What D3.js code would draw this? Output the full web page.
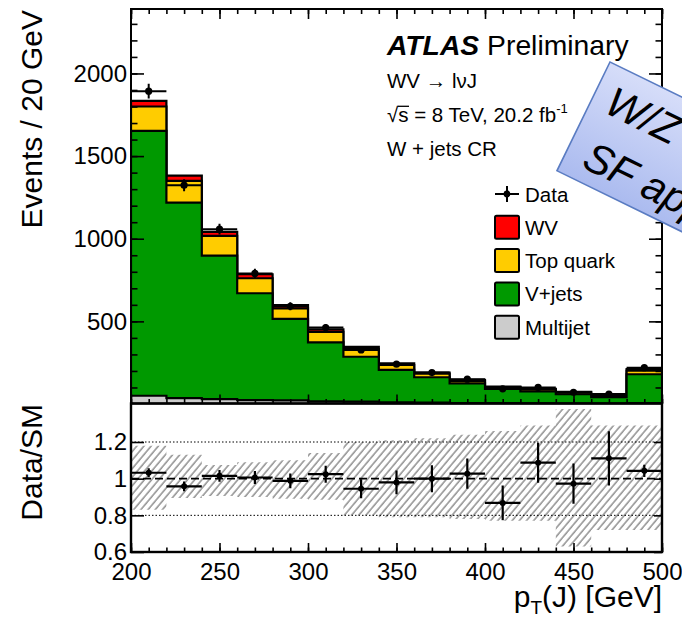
<!DOCTYPE html>
<html>
<head>
<meta charset="utf-8">
<script src="https://cdn.jsdelivr.net/npm/d3@7"></script>
<style>
  html, body { margin: 0; padding: 0; background: #fff; }
  svg { display: block; font-family: "Liberation Sans", Arial, Helvetica, sans-serif; }
</style>
</head>
<body>
<svg id="chart" width="682" height="620"></svg>
<script>
// ---- binning and yields (events / 20 GeV) ----
const binEdges = d3.range(200, 501, 20);               // 15 bins, 200-500 GeV
const multijet = [50, 36, 30, 24, 22, 16, 14, 10, 8, 6, 5, 4, 3, 3, 6];
const vjets    = [1603, 1183, 868, 646, 493, 357, 272, 196, 154, 119, 86, 72, 56, 38, 174];
const topQuark = [147, 131, 119, 91, 64, 63, 46, 30, 21, 15, 11, 12, 10, 9, 22];
const wv       = [34, 32, 25, 24, 19, 16, 14, 10, 7, 6, 4, 4, 4, 4, 9];
const dataCounts = [1893, 1324, 1058, 790, 591, 463, 327, 241, 190, 150, 92, 100, 71, 60, 220];
const dataErr    = [44, 36, 33, 28, 24, 21, 18, 16, 14, 12, 10, 10, 8, 8, 7];
// relative systematic band on the SM prediction (ratio panel)
const bandUp = [1.18, 1.13, 1.075, 1.09, 1.10, 1.14, 1.20, 1.21, 1.22, 1.24, 1.26, 1.29, 1.38, 1.29, 1.29];
const bandDn = [0.83, 0.895, 0.905, 0.90, 0.89, 0.885, 0.80, 0.79, 0.79, 0.78, 0.77, 0.77, 0.63, 0.72, 0.72];

// axis ticks
const yMajorTicks = [500, 1000, 1500, 2000];
const yMinorTicks = d3.range(100, 2400, 100);
const xMajorTicks = [200, 250, 300, 350, 400, 450, 500];
const xMinorTicks = d3.range(200, 501, 10);
const ratioTicks = [0.6, 0.8, 1, 1.2];

// legend
const legendLabels = ["WV", "Top quark", "V+jets", "Multijet"];
const legendColors = ["#ff0000", "#ffcc00", "#009900", "#cccccc"];

const svg = d3.select("#chart");
const W = { left: 131, right: 662, top: 9, mid: 403.5, bottom: 552 };

const x = d3.scaleLinear().domain([200, 500]).range([W.left, W.right]);
const y = d3.scaleLinear().domain([0, 2390]).range([404, W.top]);
const r = d3.scaleLinear().domain([0.6, 1.41]).range([W.bottom, W.mid]);

const nBins = binEdges.length - 1;
const bins = d3.range(nBins).map(i => ({ lo: binEdges[i], hi: binEdges[i + 1], mid: (binEdges[i] + binEdges[i + 1]) / 2 }));

// cumulative stack, bottom to top: multijet, V+jets, top quark, WV
const cumMJ  = multijet.slice();
const cumVJ  = cumMJ.map((v, i) => v + vjets[i]);
const cumTop = cumVJ.map((v, i) => v + topQuark[i]);
const cumWV  = cumTop.map((v, i) => v + wv[i]);
const totalSM = cumWV;

const defs = svg.append("defs");
defs.append("clipPath").attr("id", "clipMain")
  .append("rect").attr("x", W.left).attr("y", W.top).attr("width", W.right - W.left).attr("height", W.mid - W.top);
defs.append("clipPath").attr("id", "clipRatio")
  .append("rect").attr("x", W.left).attr("y", W.mid).attr("width", W.right - W.left).attr("height", W.bottom - W.mid);

const hatch = defs.append("pattern").attr("id", "hatch")
  .attr("patternUnits", "userSpaceOnUse").attr("width", 5.5).attr("height", 10)
  .attr("patternTransform", "rotate(40)");
hatch.append("line").attr("x1", 1).attr("y1", 0).attr("x2", 1).attr("y2", 10)
  .attr("stroke", "#666").attr("stroke-width", 1.1);

const grad = defs.append("linearGradient").attr("id", "noteFill")
  .attr("x1", 0).attr("y1", 0).attr("x2", 0).attr("y2", 1);
grad.append("stop").attr("offset", 0).attr("stop-color", "#d6ddf9");
grad.append("stop").attr("offset", 1).attr("stop-color", "#abbbef");

// ---- stacked step histograms ----
function stepPoints(vals) {
  const pts = [];
  bins.forEach((b, i) => { pts.push([b.lo, vals[i]]); pts.push([b.hi, vals[i]]); });
  return pts;
}
const stepArea = d3.area().x(d => x(d[0])).y0(y(0)).y1(d => y(d[1]));

const gMain = svg.append("g").attr("clip-path", "url(#clipMain)");
[[cumWV, legendColors[0]], [cumTop, legendColors[1]], [cumVJ, legendColors[2]], [cumMJ, legendColors[3]]]
  .forEach(([vals, col]) => {
    gMain.append("path").attr("d", stepArea(stepPoints(vals)) + "Z")
      .attr("fill", col).attr("stroke", "#000").attr("stroke-width", 2.2)
      .attr("stroke-linejoin", "miter");
  });

// data points
const gData = gMain.append("g");
bins.forEach((b, i) => {
  gData.append("line").attr("x1", x(b.lo)).attr("x2", x(b.hi))
    .attr("y1", y(dataCounts[i])).attr("y2", y(dataCounts[i]))
    .attr("stroke", "#000").attr("stroke-width", 2);
  gData.append("line").attr("x1", x(b.mid)).attr("x2", x(b.mid))
    .attr("y1", y(dataCounts[i] - dataErr[i])).attr("y2", y(dataCounts[i] + dataErr[i]))
    .attr("stroke", "#000").attr("stroke-width", 2);
  gData.append("circle").attr("cx", x(b.mid)).attr("cy", y(dataCounts[i])).attr("r", 3.6).attr("fill", "#000");
});

// ---- ratio panel ----
const gRatio = svg.append("g").attr("clip-path", "url(#clipRatio)");
const bandArea = d3.area().x(d => x(d[0])).y0(d => r(d[1])).y1(d => r(d[2]));
const bandPts = [];
bins.forEach((b, i) => { bandPts.push([b.lo, bandDn[i], bandUp[i]]); bandPts.push([b.hi, bandDn[i], bandUp[i]]); });
gRatio.append("path").attr("d", bandArea(bandPts)).attr("fill", "url(#hatch)");

[0.8, 1.2].forEach(v => {
  gRatio.append("line").attr("x1", W.left).attr("x2", W.right).attr("y1", r(v)).attr("y2", r(v))
    .attr("stroke", "#000").attr("stroke-width", 1).attr("stroke-dasharray", "1.5,2");
});
gRatio.append("line").attr("x1", W.left).attr("x2", W.right).attr("y1", r(1)).attr("y2", r(1))
  .attr("stroke", "#000").attr("stroke-width", 1.6).attr("stroke-dasharray", "8,4");

bins.forEach((b, i) => {
  const ratio = dataCounts[i] / totalSM[i];
  const rErr = dataErr[i] / totalSM[i];
  gRatio.append("line").attr("x1", x(b.lo)).attr("x2", x(b.hi)).attr("y1", r(ratio)).attr("y2", r(ratio))
    .attr("stroke", "#000").attr("stroke-width", 2.2);
  gRatio.append("line").attr("x1", x(b.mid)).attr("x2", x(b.mid)).attr("y1", r(ratio - rErr)).attr("y2", r(ratio + rErr))
    .attr("stroke", "#000").attr("stroke-width", 2.2);
  gRatio.append("circle").attr("cx", x(b.mid)).attr("cy", r(ratio)).attr("r", 3).attr("fill", "#000");
});

// ---- frames ----
svg.append("rect").attr("x", W.left).attr("y", W.top).attr("width", W.right - W.left).attr("height", W.mid - W.top)
  .attr("fill", "none").attr("stroke", "#000").attr("stroke-width", 2);
svg.append("rect").attr("x", W.left).attr("y", W.mid).attr("width", W.right - W.left).attr("height", W.bottom - W.mid)
  .attr("fill", "none").attr("stroke", "#000").attr("stroke-width", 2.4);

// ---- axes (inward ticks) ----
function styleAxis(g, fontSize) {
  g.select(".domain").remove();
  g.selectAll(".tick line").attr("stroke", "#000").attr("stroke-width", 1.6);
  g.selectAll(".tick text").attr("font-size", fontSize).attr("fill", "#000")
    .attr("font-family", "'Liberation Sans', Arial, Helvetica, sans-serif");
  g.attr("font-family", null).attr("font-size", null);
}
function addAxis(axis, tx, ty, fontSize) {
  const g = svg.append("g").attr("transform", `translate(${tx},${ty})`).call(axis);
  styleAxis(g, fontSize || 0);
  return g;
}
const noLabel = () => "";

// main panel, y
addAxis(d3.axisLeft(y).tickValues(yMinorTicks).tickSizeInner(-6.5).tickSizeOuter(0).tickFormat(noLabel), W.left, 0);
addAxis(d3.axisLeft(y).tickValues(yMajorTicks).tickSizeInner(-13).tickSizeOuter(0).tickPadding(4).tickFormat(d3.format("d")), W.left, 0, 24);
addAxis(d3.axisRight(y).tickValues(yMinorTicks).tickSizeInner(-6.5).tickSizeOuter(0).tickFormat(noLabel), W.right, 0);
addAxis(d3.axisRight(y).tickValues(yMajorTicks).tickSizeInner(-13).tickSizeOuter(0).tickFormat(noLabel), W.right, 0);
// main panel, x (top and bottom edges)
addAxis(d3.axisTop(x).tickValues(xMinorTicks).tickSizeInner(-5).tickSizeOuter(0).tickFormat(noLabel), 0, W.top);
addAxis(d3.axisTop(x).tickValues(xMajorTicks).tickSizeInner(-10).tickSizeOuter(0).tickFormat(noLabel), 0, W.top);
addAxis(d3.axisBottom(x).tickValues(xMinorTicks).tickSizeInner(-4.5).tickSizeOuter(0).tickFormat(noLabel), 0, W.mid);
addAxis(d3.axisBottom(x).tickValues(xMajorTicks).tickSizeInner(-9).tickSizeOuter(0).tickFormat(noLabel), 0, W.mid);
// ratio panel
addAxis(d3.axisBottom(x).tickValues(xMinorTicks).tickSizeInner(-4.5).tickSizeOuter(0).tickFormat(noLabel), 0, W.bottom);
addAxis(d3.axisBottom(x).tickValues(xMajorTicks).tickSizeInner(-9).tickSizeOuter(0).tickPadding(11).tickFormat(d3.format("d")), 0, W.bottom, 24);
addAxis(d3.axisLeft(r).tickValues(ratioTicks).tickSizeInner(-13).tickSizeOuter(0).tickPadding(4).tickFormat(d3.format("~g")), W.left, 0, 24);
addAxis(d3.axisRight(r).tickValues(ratioTicks).tickSizeInner(-8).tickSizeOuter(0).tickFormat(noLabel), W.right, 0);

// ---- axis titles ----
svg.append("text").attr("transform", "translate(42,10) rotate(-90)")
  .attr("text-anchor", "end").attr("font-size", 30).text("Events / 20 GeV");
svg.append("text").attr("transform", "translate(42,404) rotate(-90)")
  .attr("text-anchor", "end").attr("font-size", 30).text("Data/SM");
const xt = svg.append("text").attr("x", W.right).attr("y", 607).attr("text-anchor", "end").attr("font-size", 30);
xt.append("tspan").text("p");
xt.append("tspan").attr("font-size", 19).attr("dy", 7).text("T");
xt.append("tspan").attr("dy", -7).text("(J) [GeV]");

// ---- labels ----
const lab = svg.append("g");
const atl = lab.append("text").attr("x", 387).attr("y", 55).attr("font-size", 28.3);
atl.append("tspan").attr("font-weight", "bold").attr("font-style", "italic").text("ATLAS");
atl.append("tspan").text(" Preliminary");
lab.append("text").attr("x", 387).attr("y", 88).attr("font-size", 20.5).text("WV \u2192 l\u03BDJ");
const lumi = lab.append("text").attr("x", 387).attr("y", 122).attr("font-size", 20.5);
lumi.append("tspan").text("\u221As = 8 TeV, 20.2 fb");
lumi.append("tspan").attr("dy", -9).attr("font-size", 13).text("-1");
{
  const node = lumi.node();
  const x0 = 387 + node.getSubStringLength(0, 1);
  const x1 = x0 + node.getSubStringLength(1, 1);
  lab.append("line").attr("x1", x0 - 0.5).attr("x2", x1 + 0.5).attr("y1", 106.3).attr("y2", 106.3)
    .attr("stroke", "#000").attr("stroke-width", 1.3);
}
lab.append("text").attr("x", 387).attr("y", 156).attr("font-size", 20.5).text("W + jets CR");

// ---- legend ----
const lg = svg.append("g");
const legX = 495, legW = 24, legH = 23, rowY0 = 194, rowStep = 33.3;
lg.append("line").attr("x1", legX).attr("x2", legX + legW).attr("y1", rowY0).attr("y2", rowY0).attr("stroke", "#000").attr("stroke-width", 2);
lg.append("line").attr("x1", legX + legW / 2).attr("x2", legX + legW / 2).attr("y1", rowY0 - 8).attr("y2", rowY0 + 8).attr("stroke", "#000").attr("stroke-width", 2);
lg.append("circle").attr("cx", legX + legW / 2).attr("cy", rowY0).attr("r", 3.4).attr("fill", "#000");
lg.append("text").attr("x", 525).attr("y", rowY0 + 7.5).attr("font-size", 20.5).text("Data");
legendLabels.forEach((name, i) => {
  const cy = rowY0 + rowStep * (i + 1);
  lg.append("rect").attr("x", legX).attr("y", cy - legH / 2).attr("width", legW).attr("height", legH)
    .attr("rx", 1.5).attr("fill", legendColors[i]).attr("stroke", "#000").attr("stroke-width", 2);
  lg.append("text").attr("x", 525).attr("y", cy + 7.5).attr("font-size", 20.5).text(name);
});

// ---- callout note ----
const note = svg.append("g").attr("transform", "translate(610,62) rotate(26)");
note.append("rect").attr("x", 0).attr("y", 0).attr("width", 260).attr("height", 121)
  .attr("fill", "url(#noteFill)").attr("stroke", "#5a7cc2").attr("stroke-width", 1.6);
note.append("text").attr("x", 15).attr("y", 48).attr("font-size", 42).attr("font-style", "italic").text("W/Z");
note.append("text").attr("x", 19).attr("y", 107).attr("font-size", 42).attr("font-style", "italic").text("SF applied");
</script>
</body>
</html>
